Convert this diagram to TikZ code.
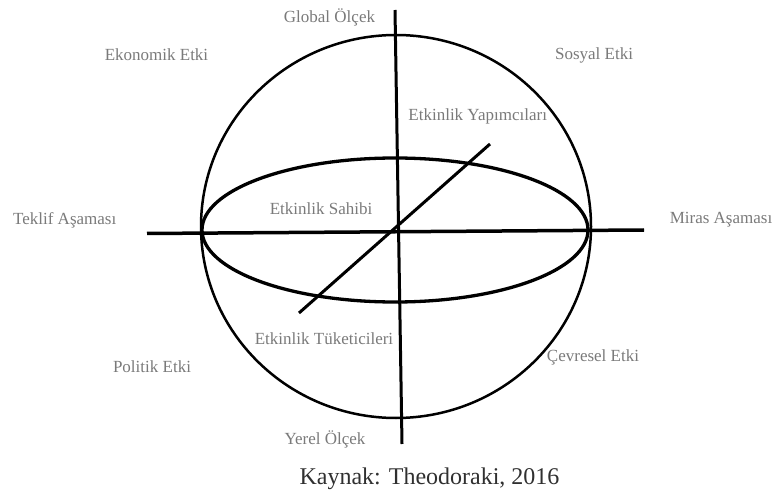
\documentclass[tikz,border=0pt]{standalone}
\usepackage{fontspec}
\setmainfont{Liberation Serif}
\definecolor{labelgray}{HTML}{7A7A7A}
\definecolor{capgray}{HTML}{303030}
\begin{document}
\begin{tikzpicture}[x=1bp,y=-1bp,
  lbl/.style={text=labelgray,font=\fontsize{17bp}{20bp}\selectfont,inner sep=0pt},
  captext/.style={text=capgray,font=\fontsize{24bp}{28bp}\selectfont,inner sep=0pt},
  axis/.style={draw=black,line width=3bp},
  sphere/.style={draw=black,line width=2.5bp},
  ring/.style={draw=black,line width=3.3bp}]
\useasboundingbox (0,0) rectangle (774,493);
% shapes
\draw[sphere] (396,226.5) ellipse [x radius=195, y radius=191.5];
\draw[ring] (395,230) ellipse [x radius=193, y radius=72];
% axes
\coordinate (vtop) at (395,10);
\coordinate (vbot) at (402,444);
\coordinate (hleft) at (147,233.5);
\coordinate (hright) at (644,230);
\coordinate (dtop) at (490,144);
\coordinate (dbot) at (299,313);
\draw[axis,line width=3.5bp] (hleft) -- (hright);
\draw[axis] (vtop) -- (vbot);
\draw[axis] (dtop) -- (dbot);
% labels
\node[lbl] (global) at (329.5,17) {Global Ölçek};
\node[lbl] (ekon) at (156.5,55) {Ekonomik Etki};
\node[lbl] (sosyal) at (594,55) {Sosyal Etki};
\node[lbl] (yapim) at (477.7,116.5) {Etkinlik Yapımcıları};
\node[lbl] (sahip) at (321,209) {Etkinlik Sahibi};
\node[lbl] (teklif) at (64.7,220.5) {Teklif Aşaması};
\node[lbl] (miras) at (721,220) {Miras Aşaması};
\node[lbl] (tuket) at (324,338.3) {Etkinlik Tüketicileri};
\node[lbl] (cevre) at (593,357) {Çevresel Etki};
\node[lbl] (politik) at (152,366.7) {Politik Etki};
\node[lbl] (yerel) at (325,439) {Yerel Ölçek};
\node[captext] (kaynak) at (429.5,479) {Kaynak: Theodoraki, 2016};
\end{tikzpicture}
\end{document}
